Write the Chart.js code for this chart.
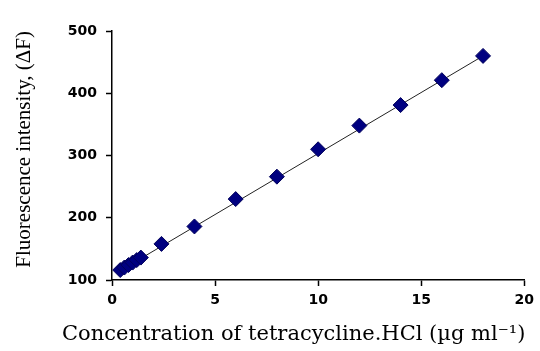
<!DOCTYPE html>
<html>
<head>
<meta charset="utf-8">
<script src="https://cdn.jsdelivr.net/npm/chart.js@4/dist/chart.umd.min.js"></script>
<style>
  html, body { margin: 0; padding: 0; background: #fff; }
  #wrap { width: 540px; height: 351px; position: relative; }
</style>
</head>
<body>
<div id="wrap"><canvas id="chart"></canvas></div>
<script>
  // ---- data ----
  const concentration = [0.4, 0.6, 0.8, 1.0, 1.2, 1.4, 2.4, 4, 6, 8, 10, 12, 14, 16, 18];
  const intensity = [116, 120, 124, 128, 132, 136, 158, 186, 230, 266, 310, 348, 381, 421, 460];

  // fitted line endpoints as drawn in the picture
  const fitX = [0.4, 18];
  const fitY = [115, 460];

  const xTicks = [0, 5, 10, 15, 20];
  const yTicks = [100, 200, 300, 400, 500];

  const xTitle = 'Concentration of tetracycline.HCl (\u00B5g ml\u207B\u00B9)';
  const yTitle = 'Fluorescence intensity, (\u0394F)';

  const NAVY = '#000080';
  const tickFont = { family: "'DejaVu Sans', sans-serif", size: 14, weight: 'bold' };

  const pts = concentration.map((x, i) => ({ x, y: intensity[i] }));
  const fit = fitX.map((x, i) => ({ x, y: fitY[i] }));

  // the x title is wider than the plot area, and Chart.js squeezes scale
  // titles to the axis width, so it is drawn here instead
  const xTitlePlugin = {
    id: 'xTitle',
    afterDraw(chart) {
      const ctx = chart.ctx;
      const area = chart.chartArea;
      ctx.save();
      ctx.font = "21px 'DejaVu Serif', serif";
      ctx.fillStyle = '#000';
      ctx.textAlign = 'left';
      ctx.textBaseline = 'middle';
      ctx.fillText(xTitle, area.left - 50, chart.height - 16);
      ctx.restore();
    }
  };

  new Chart(document.getElementById('chart'), {
    type: 'scatter',
    data: {
      datasets: [
        {
          label: 'Linear fit',
          data: fit,
          showLine: true,
          borderColor: '#222',
          borderWidth: 1,
          pointRadius: 0,
          order: 2
        },
        {
          label: 'Tetracycline.HCl',
          data: pts,
          pointStyle: 'rectRot',
          pointRadius: 7.5,
          backgroundColor: NAVY,
          borderColor: '#00005a',
          borderWidth: 1,
          order: 1
        }
      ]
    },
    options: {
      responsive: true,
      maintainAspectRatio: false,
      animation: false,
      layout: { padding: { top: 31, right: 14, left: 0, bottom: 0 } },
      plugins: {
        legend: { display: false },
        tooltip: { enabled: false }
      },
      scales: {
        x: {
          type: 'linear',
          min: 0,
          max: 20,
          afterBuildTicks: (s) => { s.ticks = xTicks.map(v => ({ value: v })); },
          afterFit: (s) => { s.height = 71; },
          border: { color: '#000', width: 1.5 },
          grid: { drawOnChartArea: false, drawTicks: true, tickLength: 6, tickColor: '#000', tickWidth: 1.5 },
          ticks: { color: '#000', font: tickFont, padding: 6 },
          title: { display: false }
        },
        y: {
          type: 'linear',
          min: 100,
          max: 500,
          afterBuildTicks: (s) => { s.ticks = yTicks.map(v => ({ value: v })); },
          afterFit: (s) => { s.width = 112; },
          border: { color: '#000', width: 1.5 },
          grid: { drawOnChartArea: false, drawTicks: true, tickLength: 6, tickColor: '#000', tickWidth: 1.5 },
          ticks: { color: '#000', font: tickFont, padding: 9 },
          title: {
            display: true,
            text: yTitle,
            align: 'end',
            color: '#000',
            font: { family: "'Liberation Serif', 'Times New Roman', serif", size: 21 },
            padding: { top: 12, bottom: 6 }
          }
        }
      }
    },
    plugins: [xTitlePlugin]
  });
</script>
</body>
</html>
